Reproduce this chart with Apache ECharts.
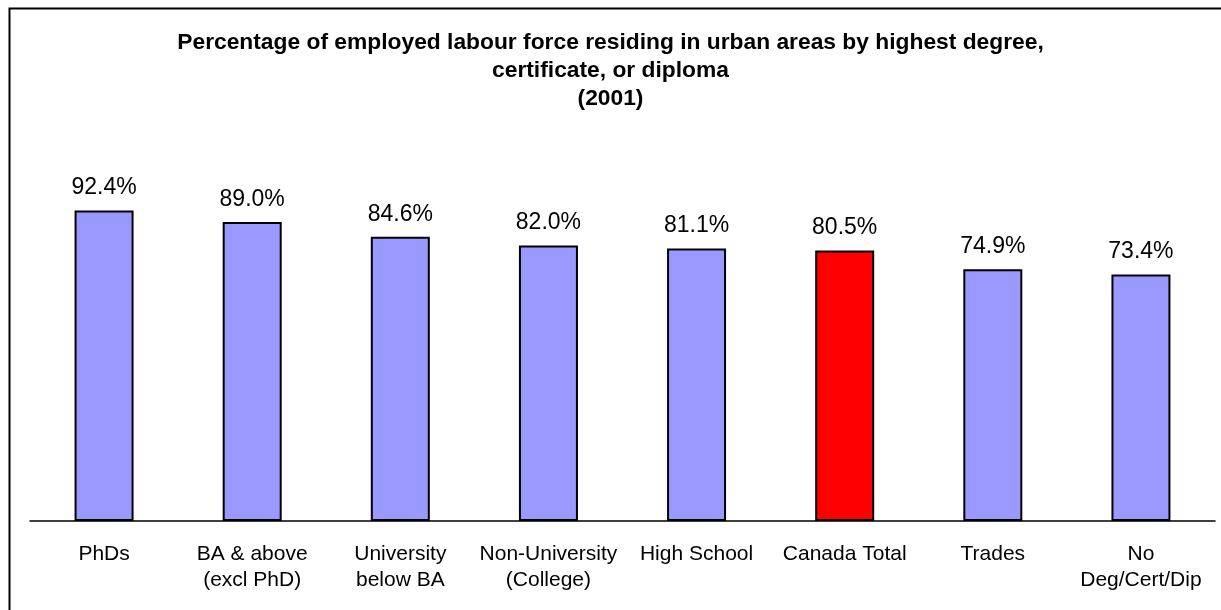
<!DOCTYPE html>
<html>
<head>
<meta charset="utf-8">
<script src="https://cdn.jsdelivr.net/npm/echarts@6/dist/echarts.min.js"></script>
<style>
  html, body { margin: 0; padding: 0; background: #fff; }
  #chart { width: 1221px; height: 610px; }
</style>
</head>
<body>
<div id="chart"></div>
<script>
// Highest degree, certificate or diploma groups
const categories = [
  'PhDs',
  'BA & above\n(excl PhD)',
  'University\nbelow BA',
  'Non-University\n(College)',
  'High School',
  'Canada Total',
  'Trades',
  'No\nDeg/Cert/Dip'
];
// Share of employed labour force living in urban areas (%)
const urbanShare = [92.4, 89.0, 84.6, 82.0, 81.1, 80.5, 74.9, 73.4];
// The national total is highlighted
const highlightCategory = 'Canada Total';

const FONT = '"Liberation Sans", Arial, sans-serif';

const chart = echarts.init(document.getElementById('chart'));
chart.setOption({
  backgroundColor: '#ffffff',
  animation: false,
  title: {
    text: 'Percentage of employed labour force residing in urban areas by highest degree,\ncertificate, or diploma\n(2001)',
    left: 'center',
    top: 24,
    textStyle: {
      fontFamily: FONT,
      fontSize: 22.8,
      fontWeight: 'bold',
      color: '#000',
      lineHeight: 28
    }
  },
  graphic: [{
    type: 'rect',
    shape: { x: 9.5, y: 8.5, width: 1230, height: 620 },
    style: { fill: 'none', stroke: '#000', lineWidth: 2 },
    silent: true
  }],
  grid: { left: 30, right: 6, top: 185, bottom: 89 },
  xAxis: {
    type: 'category',
    data: categories,
    axisLine: { show: true, lineStyle: { color: '#000', width: 1.5 } },
    axisTick: { show: false },
    axisLabel: {
      interval: 0,
      margin: 20,
      fontFamily: FONT,
      fontSize: 21,
      lineHeight: 26,
      color: '#000'
    }
  },
  yAxis: {
    type: 'value',
    min: 0,
    max: 100,
    show: false
  },
  series: [{
    type: 'bar',
    barWidth: 59,
    data: urbanShare.map((v, i) => ({
      value: v,
      itemStyle: {
        color: categories[i] === highlightCategory ? '#ff0000' : '#9999ff'
      }
    })),
    itemStyle: { borderColor: '#000', borderWidth: 2 },
    label: {
      show: true,
      position: 'top',
      distance: 11,
      fontFamily: FONT,
      fontSize: 23,
      color: '#000',
      formatter: p => p.value.toFixed(1) + '%'
    }
  }]
});
</script>
</body>
</html>
